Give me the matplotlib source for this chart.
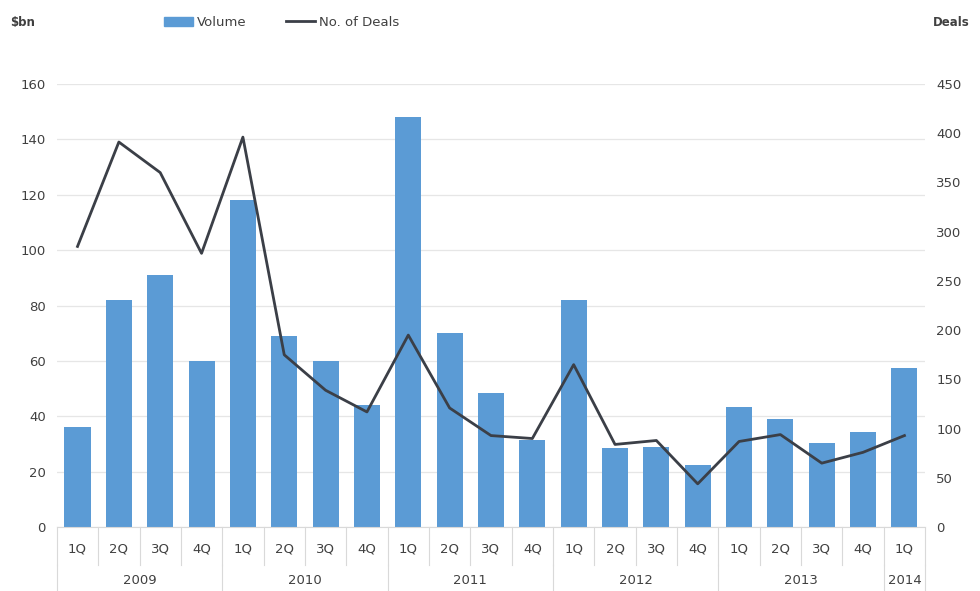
import matplotlib
matplotlib.use("Agg")
import matplotlib.pyplot as plt
import matplotlib.transforms as mtransforms
from matplotlib.patches import Patch
from matplotlib.lines import Line2D
import numpy as np

# quarters 1Q 2009 .. 1Q 2014
quarters = ["1Q", "2Q", "3Q", "4Q"] * 5 + ["1Q"]
years = ["2009", "2010", "2011", "2012", "2013", "2014"]
year_counts = [4, 4, 4, 4, 4, 1]

volume = [36, 82, 91, 60, 118, 69, 60, 44, 148, 70, 48.5, 31.5,
          82, 28.5, 29, 22.5, 43.5, 39, 30.5, 34.5, 57.5]
deals = [285, 391, 360, 278, 396, 175, 139, 117, 195, 121, 93, 90,
         165, 84, 88, 44, 87, 94, 65, 76, 93]

bar_color = "#5B9BD5"
line_color = "#3b3f47"
text_color = "#404040"
sep_color = "#d9d9d9"

fig = plt.figure(figsize=(9.8, 5.91), dpi=100)
ax = fig.add_axes([0.058, 0.108, 0.886, 0.75])
ax2 = ax.twinx()

x = np.arange(len(volume))
ax.bar(x, volume, width=0.63, color=bar_color, zorder=2)
ax2.plot(x, deals, color=line_color, lw=2, zorder=3)

ax.set_xlim(-0.5, len(volume) - 0.5)
ax.set_ylim(0, 160)
ax.set_yticks(range(0, 161, 20))
ax2.set_ylim(0, 450)
ax2.set_yticks(range(0, 451, 50))

ax.grid(axis="y", color="#e6e6e6", lw=0.9, zorder=0)
ax.set_axisbelow(True)
for a in (ax, ax2):
    for s in a.spines.values():
        s.set_visible(False)
    a.tick_params(axis="y", length=0, labelsize=9.5, colors=text_color, pad=8)
ax.spines["bottom"].set_visible(True)
ax.spines["bottom"].set_color(sep_color)

ax.set_xticks(x)
ax.set_xticklabels(quarters, fontsize=9.5, color=text_color)
ax.tick_params(axis="x", length=0, pad=11)

# category separators under the axis
trans = mtransforms.blended_transform_factory(ax.transData, ax.transAxes)
for i in range(len(volume) + 1):
    ax.plot([i - 0.5, i - 0.5], [0, -0.086], transform=trans,
            color=sep_color, lw=0.8, clip_on=False)

start = 0
bounds = [0]
for yr, n in zip(years, year_counts):
    ax.text(start + (n - 1) / 2, -0.12, yr, transform=trans, ha="center",
            va="center", fontsize=9.5, color=text_color)
    start += n
    bounds.append(start)
for b in bounds:
    ax.plot([b - 0.5, b - 0.5], [-0.086, -0.145], transform=trans,
            color=sep_color, lw=0.8, clip_on=False)

# axis titles and legend
fig.text(0.010, 0.962, "$bn", fontsize=8.5, fontweight="bold", color=text_color,
         ha="left", va="center")
fig.text(0.952, 0.962, "Deals", fontsize=8.5, fontweight="bold", color=text_color,
         ha="left", va="center")
handles = [Patch(color=bar_color), Line2D([0], [0], color=line_color, lw=2)]
fig.legend(handles, ["Volume", "No. of Deals"], loc="center",
           bbox_to_anchor=(0.287, 0.962), ncol=2, frameon=False,
           fontsize=9.5, handlelength=2.2, handletextpad=0.3,
           columnspacing=3.0, labelcolor=text_color)

fig.savefig("out.png", dpi=100)
